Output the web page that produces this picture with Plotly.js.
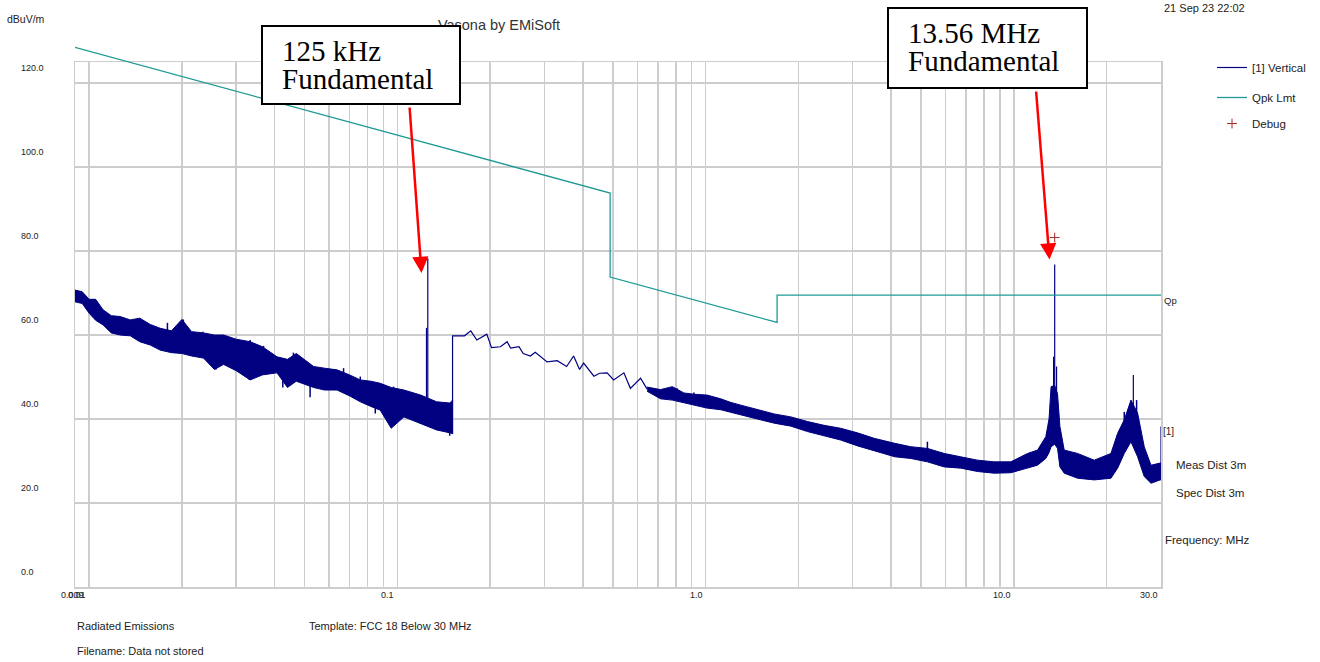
<!DOCTYPE html>
<html>
<head>
<meta charset="utf-8">
<script src="https://cdn.plot.ly/plotly-3.0.1.min.js"></script>
<style>
html,body{margin:0;padding:0;background:#fff;}
#chart{width:1320px;height:662px;}
</style>
</head>
<body>
<div id="chart"></div>
<script>
// ---------------- data ----------------
// Measured sweep "[1] Vertical": noisy low band 9 kHz - 150 kHz (upper / lower envelope, dBuV/m)
const bandLowFreq  = [0.0090,0.0095,0.0100,0.0105,0.0111,0.0118,0.0126,0.0136,0.0146,0.0158,0.0170,0.0185,0.0200,0.0215,0.0235,0.0255,0.0273,0.0300,0.0333,0.0365,0.0407,0.0440,0.0470,0.0535,0.0580,0.0637,0.0700,0.0758,0.0820,0.0880,0.0955,0.1050,0.1190,0.1340,0.1480,0.1510];
const bandLowUpper = [70.7,70.3,68.5,68.5,66.0,64.6,64.4,63.6,64.0,62.5,61.6,61.0,63.7,60.8,60.5,60.0,60.0,59.0,58.4,57.2,54.8,54.2,55.6,52.5,52.1,51.7,50.5,49.3,49.0,48.5,47.5,46.9,45.7,44.1,43.8,44.5];
const bandLowLower = [67.9,67.5,65.2,63.5,62.4,60.5,60.0,59.8,58.4,57.6,56.4,55.8,55.6,55.0,54.5,51.8,53.0,51.5,49.3,50.5,51.0,47.5,49.0,47.5,46.9,46.9,45.5,44.1,43.0,42.1,37.8,40.5,39.0,37.4,36.7,36.5];

// Measured sweep: single trace 150 kHz - 650 kHz
const sweepFreq  = [0.151,0.151,0.165,0.173,0.181,0.195,0.202,0.216,0.227,0.233,0.248,0.256,0.270,0.280,0.306,0.330,0.354,0.373,0.390,0.402,0.434,0.453,0.479,0.503,0.543,0.570,0.615,0.646];
const sweepLevel = [36.5,59.8,59.8,61.0,58.8,60.2,57.0,57.2,58.4,56.9,57.2,55.6,55.0,55.9,53.6,53.9,52.5,55.0,51.8,53.3,50.2,50.9,51.0,49.3,51.0,47.3,49.7,47.1];

// Measured sweep: noisy band 650 kHz - 30 MHz (upper / lower envelope)
const bandHighFreq  = [0.646,0.714,0.780,0.850,0.916,1.01,1.12,1.20,1.30,1.47,1.67,1.89,2.14,2.42,2.74,3.11,3.52,4.11,4.63,5.24,5.94,6.72,7.62,8.62,9.77,11.07,11.93,12.69,13.00,13.20,13.56,13.85,14.10,14.56,16.09,18.22,20.64,21.70,22.80,23.97,25.19,26.47,27.84,29.80,30.0];
const bandHighUpper = [47.6,47.0,47.7,46.2,45.9,45.7,44.8,44.0,43.3,42.2,41.2,40.5,39.4,38.5,37.8,36.7,35.4,34.2,33.4,33.0,31.8,31.0,30.2,29.8,29.8,31.8,32.6,35.8,40.0,47.7,48.0,46.0,38.2,32.6,31.8,30.2,31.8,36.6,39.8,44.5,41.4,33.4,29.0,29.5,29.5];
const bandHighLower = [46.6,44.8,44.5,43.8,43.3,42.6,42.2,41.6,41.0,40.0,39.0,38.3,37.0,36.0,35.0,33.6,32.4,31.0,30.6,29.8,28.6,28.3,27.5,27.1,27.2,28.3,29.0,30.6,32.0,33.4,34.0,33.0,28.6,27.1,25.9,25.5,25.9,28.3,31.8,34.6,31.0,26.3,24.7,25.5,25.5];

// Narrow spikes of the sweep (fundamentals, harmonics, sweep end)
const spikeFreq = [0.1243,0.1255,13.45,13.56,13.75,24.4,30.0];
const spikeBase = [40.0,40.0,40.0,36.0,40.0,34.6,27.0];
const spikeTop  = [61.7,78.3,54.8,76.8,52.5,50.5,38.2];

// Individual noise excursions visible outside the envelope
const noiseFreq = [0.0126,0.01463,0.01538,0.0172,0.01795,0.02022,0.02338,0.0258,0.0273,0.0331,0.0333,0.0368,0.0425,0.046,0.0521,0.0669,0.0758,0.0848,0.0972,0.1478,0.809,0.916,5.24,22.8,25.0];
const noiseFrom = [62.0,61.0,60.0,59.0,59.0,58.0,58.0,56.0,57.0,53.0,54.0,54.0,52.0,51.0,49.0,49.0,47.0,45.0,44.0,40.0,45.5,44.5,31.5,35.0,36.0];
const noiseTo   = [63.7,64.0,62.4,56.3,62.9,63.7,60.8,51.8,59.6,49.3,58.8,57.4,47.5,55.8,45.2,52.1,50.1,41.3,47.7,36.0,47.3,46.3,34.6,41.7,44.5];

// Quasi-peak limit line "Qpk Lmt"
const limitFreq  = [0.009,0.49,0.49,1.705,1.705,30.0];
const limitLevel = [128.5,93.8,73.8,63.0,69.5,69.5];

// Debug marker
const debugFreq  = [13.56];
const debugLevel = [83.2];

// Axis ticks / grid
const xGridVals  = [0.01,0.02,0.03,0.04,0.05,0.06,0.07,0.08,0.09,0.1,0.2,0.3,0.4,0.5,0.6,0.7,0.8,0.9,1,2,3,4,5,6,7,8,9,10,20];
const xTickVals  = [0.009,0.01,0.1,1,10,30];
const xTickText  = ["0.009","0.01","0.1","1.0","10.0","30.0"];
const yTickVals  = [0,20,40,60,80,100,120];
const yTickText  = ["0.0","20.0","40.0","60.0","80.0","100.0","120.0"];

// ---------------- layout helpers (pixel -> paper) ----------------
const PX0 = 75, PX1 = 1161, PY0 = 30, PY1 = 587;
function px(p){ return (p - PX0) / (PX1 - PX0); }
function py(p){ return (PY1 - p) / (PY1 - PY0); }
const FONT = "Liberation Sans, Arial, sans-serif";
const SERIF = "Liberation Serif, Times New Roman, serif";
const NAVY = "#000080";
const TEAL = "#1e9a96";
const GRID = "#cdcdcd";

function band(f, up, lo){
  return {
    x: f.concat(f.slice().reverse()),
    y: up.concat(lo.slice().reverse())
  };
}
const bA = band(bandLowFreq, bandLowUpper, bandLowLower);
const bC = band(bandHighFreq, bandHighUpper, bandHighLower);

const mainX = sweepFreq.slice(), mainY = sweepLevel.slice();
spikeFreq.forEach(function(f, i){
  mainX.push(null, f, f);
  mainY.push(null, spikeBase[i], spikeTop[i]);
});
const noiseX = [], noiseY = [];
noiseFreq.forEach(function(f, i){
  noiseX.push(f, f, null);
  noiseY.push(noiseFrom[i], noiseTo[i], null);
});

const traces = [
  {x: bA.x, y: bA.y, type:'scatter', mode:'lines', fill:'toself', fillcolor:NAVY,
   line:{color:NAVY, width:1}, showlegend:false, hoverinfo:'skip', xaxis:'x', yaxis:'y'},
  {x: bC.x, y: bC.y, type:'scatter', mode:'lines', fill:'toself', fillcolor:NAVY,
   line:{color:NAVY, width:1}, showlegend:false, hoverinfo:'skip', xaxis:'x', yaxis:'y'},
  {x: noiseX, y: noiseY, type:'scatter', mode:'lines', connectgaps:false,
   line:{color:NAVY, width:1.5}, showlegend:false, hoverinfo:'skip', xaxis:'x', yaxis:'y'},
  {x: mainX, y: mainY, type:'scatter', mode:'lines', name:'[1] Vertical', legend:'legend',
   line:{color:NAVY, width:1.2}, connectgaps:false, hoverinfo:'skip', xaxis:'x', yaxis:'y'},
  {x: limitFreq, y: limitLevel, type:'scatter', mode:'lines', name:'Qpk Lmt', legend:'legend2',
   line:{color:TEAL, width:1.3}, hoverinfo:'skip', xaxis:'x2', yaxis:'y2'},
  {x: debugFreq, y: debugLevel, type:'scatter', mode:'markers', name:'Debug', legend:'legend3',
   marker:{symbol:'cross-thin', size:7, color:'#a82828', line:{color:'#a82828', width:1}}, hoverinfo:'skip',
   cliponaxis:false, xaxis:'x2', yaxis:'y2'}
];

const annotations = [];
function txt(t, x, y, size, extra){
  annotations.push(Object.assign({text:t, xref:'paper', yref:'paper', x:px(x), y:py(y),
    xanchor:'left', yanchor:'middle', showarrow:false, borderpad:0,
    font:{family:FONT, size:size, color:'#222'}}, extra || {}));
}
// y tick labels (sit above their gridlines, left aligned)
yTickVals.forEach(function(v, i){
  annotations.push({text:yTickText[i], xref:'paper', x:px(20), xanchor:'left',
    yref:'y', y:v, yshift:15, yanchor:'middle', showarrow:false, borderpad:0,
    font:{family:FONT, size:9, color:'#222'}});
});
// x tick labels (end at their gridline)
xTickVals.forEach(function(v, i){
  const first = (i === 0);
  annotations.push({text:xTickText[i], xref:'x', x:Math.log10(v),
    xanchor: first ? 'left' : 'right', xshift: first ? -15 : -2,
    yref:'paper', y:py(595), yanchor:'middle', showarrow:false, borderpad:0,
    font:{family:FONT, size:9, color:'#222'}});
});
txt('dBuV/m', 6, 19, 10.5);
txt('21 Sep 23 22:02', 1163, 8, 11);
txt('Qp', 1163, 300, 9.5);
txt('[1]', 1162, 431, 10);
txt('Meas Dist 3m', 1175, 465, 11.5);
txt('Spec Dist 3m', 1175, 493, 11.5);
txt('Frequency: MHz', 1164, 540, 11.5);
txt('Radiated Emissions', 76, 626, 11);
txt('Template: FCC 18 Below 30 MHz', 308, 626, 11);
txt('Filename: Data not stored', 76, 651, 11);

// callout boxes
function box(x0, y0, x1, y1){
  annotations.push({text:' ', xref:'paper', yref:'paper', x:px((x0+x1)/2), y:py((y0+y1)/2),
    xanchor:'center', yanchor:'middle', width:(x1-x0-4), height:(y1-y0-4), borderpad:0,
    bgcolor:'#ffffff', bordercolor:'#000000', borderwidth:2, showarrow:false,
    font:{family:SERIF, size:10, color:'#000'}});
}
function arrow(tx, ty, sx, sy){
  annotations.push({text:'', xref:'paper', yref:'paper', x:px(tx), y:py(ty),
    ax:(sx-tx), ay:(sy-ty), axref:'pixel', ayref:'pixel', showarrow:true,
    arrowhead:2, arrowsize:1.3, arrowwidth:2.5, arrowcolor:'#ff0000', standoff:0, startstandoff:0});
}
box(261, 25, 461, 105);
txt('125 kHz', 281, 50.5, 29, {font:{family:SERIF, size:29, color:'#000'}});
txt('Fundamental', 281, 78.5, 29, {font:{family:SERIF, size:29, color:'#000'}});
arrow(421.5, 273, 409.5, 106);
box(887, 7, 1088, 89);
txt('13.56 MHz', 907, 33, 29, {font:{family:SERIF, size:29, color:'#000'}});
txt('Fundamental', 907, 61.5, 29, {font:{family:SERIF, size:29, color:'#000'}});
arrow(1049.5, 259.5, 1036, 90);

function legendAt(top){
  return {x:px(1212), y:py(top), xanchor:'left', yanchor:'top', bgcolor:'rgba(0,0,0,0)',
          borderwidth:0, font:{family:FONT, size:11.5, color:'#222'}};
}

const xRange = [Math.log10(0.009), Math.log10(30)];
const layout = {
  width:1320, height:662,
  margin:{l:PX0, r:1320-PX1, t:PY0, b:662-PY1, pad:0, autoexpand:false},
  paper_bgcolor:'#ffffff', plot_bgcolor:'rgba(0,0,0,0)',
  font:{family:FONT, size:11, color:'#222'},
  title:{text:'Vasona by EMiSoft', x:499/1320, xanchor:'center', xref:'container',
         y:1-24.5/662, yanchor:'middle', yref:'container',
         font:{family:FONT, size:14.5, color:'#333'}},
  showlegend:true,
  legend:legendAt(53),
  legend2:legendAt(83),
  legend3:legendAt(109),
  xaxis:{type:'log', range:xRange, domain:[0,1], anchor:'y',
         tickmode:'array', tickvals:xGridVals, showticklabels:false, ticks:'',
         showgrid:true, gridcolor:GRID, gridwidth:1.5, zeroline:false,
         showline:true, linecolor:GRID, linewidth:1.5, mirror:true, fixedrange:true},
  yaxis:{range:[0,125], domain:[0, py(62)], anchor:'x',
         tickmode:'array', tickvals:yTickVals, showticklabels:false, ticks:'',
         showgrid:true, gridcolor:GRID, gridwidth:1.5, zeroline:false,
         showline:true, linecolor:GRID, linewidth:1.5, mirror:true, fixedrange:true},
  xaxis2:{type:'log', range:xRange, domain:[0,1], anchor:'y2', visible:false, fixedrange:true},
  yaxis2:{range:[0,(PY1-PY0)/4.2], domain:[0,1], anchor:'x2', visible:false, fixedrange:true},
  annotations:annotations
};

Plotly.newPlot('chart', traces, layout, {displayModeBar:false, staticPlot:true});
</script>
</body>
</html>
